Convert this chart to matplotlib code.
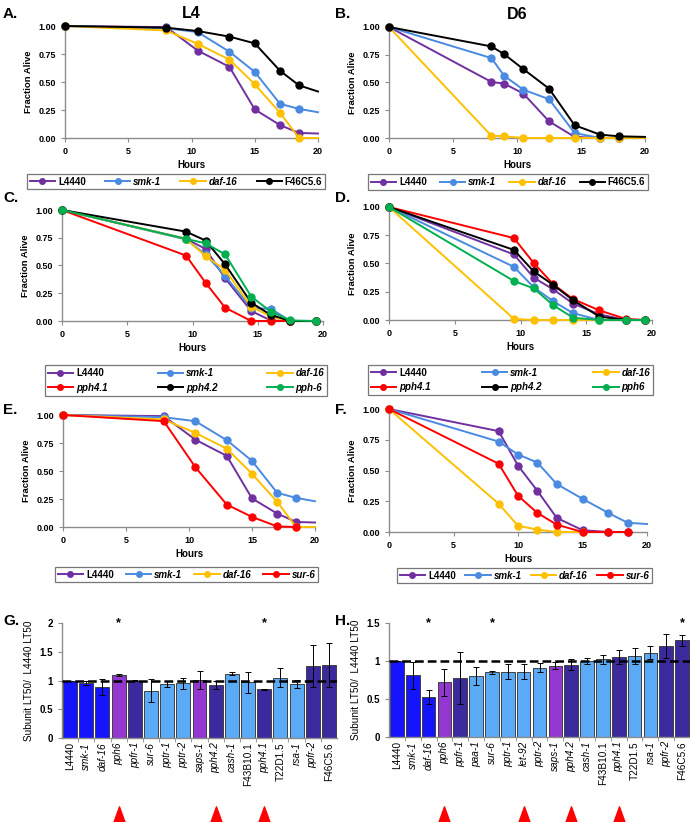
import matplotlib
matplotlib.use("Agg")
import matplotlib.pyplot as plt
import matplotlib.transforms as mtransforms
from matplotlib.lines import Line2D

plt.rcParams['font.family'] = ['Liberation Sans', 'DejaVu Sans']

# ---------------- data ----------------
# A: L4 RNAi, subset 1
a_hours = [0, 8, 10.5, 13, 15, 17, 18.5, 20]
a_l4440 = [1, 0.99, 0.78, 0.635, 0.255, 0.115, 0.045, 0.04]
a_smk1 = [1, 0.98, 0.945, 0.77, 0.59, 0.305, 0.26, 0.23]
a_daf16 = [1, 0.96, 0.84, 0.70, 0.48, 0.225, 0.0, 0.0]
a_f46 = [1, 0.985, 0.955, 0.905, 0.845, 0.60, 0.47, 0.415]

# B: D6 RNAi, subset 1
b_hours = [0, 8, 9, 10.5, 12.5, 14.5, 16.5, 18, 20]
b_l4440 = [1, 0.505, 0.49, 0.40, 0.15, 0.01, 0, 0, 0]
b_smk1 = [1, 0.72, 0.56, 0.435, 0.35, 0.045, 0, 0, 0]
b_daf16 = [1, 0.02, 0.015, 0, 0, 0, 0, 0, 0]
b_f46 = [1, 0.825, 0.755, 0.62, 0.445, 0.115, 0.03, 0.015, 0.01]

# C: L4 RNAi, subset 2
c_hours = [0, 9.5, 11, 12.5, 14.5, 16, 17.5, 19.5]
c_l4440 = [1, 0.74, 0.65, 0.385, 0.09, 0.005, 0, 0]
c_smk1 = [1, 0.735, 0.60, 0.405, 0.115, 0.11, 0, 0]
c_daf16 = [1, 0.74, 0.585, 0.46, 0.13, 0.04, 0, 0]
c_pph41 = [1, 0.59, 0.345, 0.12, 0, 0, 0, 0]
c_pph42 = [1, 0.805, 0.725, 0.51, 0.165, 0.055, 0, 0]
c_pph6 = [1, 0.74, 0.70, 0.60, 0.22, 0.085, 0.005, 0]

# D: D6 RNAi, subset 2
d_hours = [0, 9.5, 11, 12.5, 14, 16, 18, 19.5]
d_l4440 = [1, 0.58, 0.375, 0.27, 0.145, 0.05, 0, 0]
d_smk1 = [1, 0.47, 0.29, 0.165, 0.06, 0, 0, 0]
d_daf16 = [1, 0.01, 0, 0, 0, 0, 0, 0]
d_pph41 = [1, 0.725, 0.505, 0.315, 0.185, 0.085, 0.01, 0]
d_pph42 = [1, 0.62, 0.43, 0.31, 0.175, 0.03, 0, 0]
d_pph6 = [1, 0.345, 0.28, 0.13, 0.02, 0, 0, 0]

# E: L4 RNAi, sur-6
e_hours = [0, 8, 10.5, 13, 15, 17, 18.5, 20]
e_l4440 = [1, 0.99, 0.78, 0.635, 0.255, 0.12, 0.045, 0.04]
e_smk1 = [1, 0.98, 0.945, 0.775, 0.59, 0.305, 0.26, 0.23]
e_daf16 = [1, 0.96, 0.84, 0.70, 0.475, 0.225, 0.0, 0.0]
e_sur6_hours = [0, 8, 10.5, 13, 15, 17, 18.5]
e_sur6 = [1, 0.945, 0.535, 0.2, 0.09, 0.005, 0]

# F: D6 RNAi, sur-6
f_l4440_hours = [0, 8.5, 10, 11.5, 13, 15, 17, 18.5]
f_l4440 = [1, 0.82, 0.54, 0.335, 0.115, 0.015, 0, 0]
f_smk1_hours = [0, 8.5, 10, 11.5, 13, 15, 17, 18.5, 20]
f_smk1 = [1, 0.735, 0.63, 0.565, 0.39, 0.27, 0.155, 0.075, 0.065]
f_daf16_hours = [0, 8.5, 10, 11.5, 13, 15]
f_daf16 = [1, 0.23, 0.05, 0.02, 0, 0]
f_sur6_hours = [0, 8.5, 10, 11.5, 13, 15, 17, 18.5]
f_sur6 = [1, 0.555, 0.295, 0.155, 0.06, 0, 0, 0]

# G: L4 LT50 ratios
g_genes = ['L4440', 'smk-1', 'daf-16', 'pph6', 'ppfr-1', 'sur-6', 'pptr-1', 'pptr-2',
           'saps-1', 'pph4.2', 'cash-1', 'F43B10.1', 'pph4.1', 'T22D1.5', 'rsa-1',
           'ppfr-2', 'F46C5.6']
g_ratio = [1.0, 0.96, 0.885, 1.09, 1.0, 0.82, 0.94, 0.95, 1.01, 0.92, 1.12, 0.97, 0.85,
           1.05, 0.94, 1.25, 1.27]
g_err = [0.0, 0.04, 0.14, 0.02, 0.01, 0.2, 0.05, 0.1, 0.16, 0.07, 0.03, 0.18, 0.01,
         0.16, 0.07, 0.36, 0.38]
g_star = ['pph6', 'pph4.1']
g_arrow = ['pph6', 'pph4.2', 'pph4.1']

# H: D6 LT50 ratios
h_genes = ['L4440', 'smk-1', 'daf-16', 'pph6', 'ppfr-1', 'paa-1', 'sur-6', 'pptr-1',
           'let-92', 'pptr-2', 'saps-1', 'pph4.2', 'cash-1', 'F43B10.1', 'pph4.1',
           'T22D1.5', 'rsa-1', 'ppfr-2', 'F46C5.6']
h_ratio = [1.0, 0.81, 0.53, 0.72, 0.78, 0.80, 0.85, 0.86, 0.86, 0.91, 0.94, 0.95, 1.0,
           1.02, 1.05, 1.065, 1.11, 1.195, 1.27]
h_err = [0.0, 0.18, 0.09, 0.18, 0.34, 0.12, 0.02, 0.1, 0.1, 0.06, 0.05, 0.07, 0.04,
         0.06, 0.09, 0.11, 0.09, 0.16, 0.07]
h_star = ['daf-16', 'sur-6', 'F46C5.6']
h_arrow = ['pph6', 'let-92', 'pph4.2', 'pph4.1']

# ---------------- styles ----------------
PURPLE = '#7030A0'
BLUE = '#4A8AE0'
YELLOW = '#FFC000'
RED = '#FF0000'
BLACK = '#000000'
GREEN = '#00B050'
GRAY = '#8C8C8C'

bar_col = {}
for g in ['L4440', 'smk-1', 'daf-16']:
    bar_col[g] = '#1414FF'
for g in ['pph6', 'saps-1']:
    bar_col[g] = '#9436D0'
for g in ['ppfr-1', 'pph4.2', 'pph4.1', 'ppfr-2', 'F46C5.6']:
    bar_col[g] = '#3B2A9E'
for g in ['sur-6', 'pptr-1', 'pptr-2', 'cash-1', 'F43B10.1', 'T22D1.5', 'rsa-1',
          'paa-1', 'let-92']:
    bar_col[g] = '#5AAAF5'
plain = ['L4440', 'F46C5.6', 'F43B10.1', 'T22D1.5']

W, H = 690, 822
fig = plt.figure(figsize=(W / 100, H / 100), dpi=100)


def box(l, t, r, b):
    return fig.add_axes([l / W, 1 - b / H, (r - l) / W, (b - t) / H])


def style_axes(ax):
    for s in ['top', 'right']:
        ax.spines[s].set_visible(False)
    for s in ['left', 'bottom']:
        ax.spines[s].set_color(GRAY)
        ax.spines[s].set_linewidth(1.0)
    ax.tick_params(colors=GRAY, length=3, width=0.8, labelcolor='black')


def survival_axes(l, t, r, b):
    ax = box(l, t, r, b)
    style_axes(ax)
    ax.set_xlim(0, 20)
    ax.set_ylim(0, 1)
    ax.set_xticks([0, 5, 10, 15, 20])
    ax.set_yticks([0, 0.25, 0.5, 0.75, 1.0])
    ax.set_yticklabels(['0.00', '0.25', '0.50', '0.75', '1.00'])
    for lab in ax.get_xticklabels() + ax.get_yticklabels():
        lab.set_fontsize(6.5)
        lab.set_fontweight('bold')
    ax.set_ylabel('Fraction Alive', fontsize=6.8, fontweight='bold', labelpad=4)
    ax.set_xlabel('Hours', fontsize=7, fontweight='bold', labelpad=3)
    return ax


def curve(ax, x, y, color):
    marks = [i for i, v in enumerate(x) if v < 20]
    ax.plot(x, y, color=color, lw=1.4, marker='o', ms=5, markevery=marks,
            clip_on=False, zorder=3)


def legend(l, t, r, b, entries, ncol):
    # matplotlib fills columns first; reorder so entries read row by row
    nrow = -(-len(entries) // ncol)
    order = [r_ * ncol + c for c in range(ncol) for r_ in range(nrow)
             if r_ * ncol + c < len(entries)]
    entries = [entries[i] for i in order]
    handles = [Line2D([], [], color=c, lw=1.4, marker='o', ms=4) for _, c in entries]
    labels = [n for n, _ in entries]
    leg = fig.legend(handles, labels, ncol=ncol, mode='expand', loc='center',
                     bbox_to_anchor=(l / W, 1 - b / H, (r - l) / W, (b - t) / H),
                     frameon=True, fancybox=False, edgecolor='#555555',
                     handlelength=2.6, handletextpad=0.3, borderpad=0.3,
                     columnspacing=0.6, labelspacing=0.45, numpoints=1,
                     prop={'size': 7, 'weight': 'bold'})
    leg.get_frame().set_linewidth(0.9)
    for txt in leg.get_texts():
        if txt.get_text() not in plain:
            txt.set_style('italic')
    return leg


def bar_axes(l, t, r, b, genes, ratio, err, stars, arrows, ytop, yticks, ylabs):
    ax = box(l, t, r, b)
    style_axes(ax)
    x = list(range(len(genes)))
    ax.bar(x, ratio, width=0.86, color=[bar_col[g] for g in genes],
           edgecolor='#404040', linewidth=0.7, zorder=2)
    ax.errorbar(x, ratio, yerr=err, fmt='none', ecolor='black', elinewidth=0.7,
                capsize=2.5, capthick=0.7, zorder=3)
    ax.axhline(1.0, color='black', lw=1.8, dashes=(3.5, 1.6), zorder=4)
    ax.set_xlim(-0.5, len(genes) - 0.5)
    ax.set_ylim(0, ytop)
    ax.set_yticks(yticks)
    ax.set_yticklabels(ylabs, fontsize=7, fontweight='bold')
    ax.set_xticks(x)
    ax.set_xticklabels(genes, rotation=90, fontsize=7.2)
    for lab in ax.get_xticklabels():
        if lab.get_text() not in plain:
            lab.set_style('italic')
    ax.set_xticks([i + 0.5 for i in x[:-1]], minor=True)
    ax.tick_params(axis='x', which='major', length=0, pad=3)
    ax.tick_params(axis='x', which='minor', length=3, color=GRAY)
    ax.set_ylabel('Subunit LT50/  L4440 LT50', fontsize=7.2, labelpad=4)
    for g in stars:
        ax.text(genes.index(g), ytop, '*', ha='center', va='center', fontsize=9,
                fontweight='bold')
    tr = mtransforms.blended_transform_factory(ax.transData, fig.transFigure)
    tri = [(-0.36, -0.5), (0.36, -0.5), (0, 0.5), (-0.36, -0.5)]
    for g in arrows:
        ax.plot([genes.index(g)], [1 - 814 / H], transform=tr, marker=tri, ms=11,
                color='#FF0000', clip_on=False, ls='none')
    return ax


# ---------------- panel A ----------------
ax = survival_axes(65, 26, 318, 138)
curve(ax, a_hours, a_l4440, PURPLE)
curve(ax, a_hours, a_smk1, BLUE)
curve(ax, a_hours, a_daf16, YELLOW)
curve(ax, a_hours, a_f46, BLACK)
ax.set_title('L4', fontsize=11.5, fontweight='bold', pad=6)
legend(22, 173, 330, 190, [('L4440', PURPLE), ('smk-1', BLUE), ('daf-16', YELLOW),
                           ('F46C5.6', BLACK)], 4)

# ---------------- panel B ----------------
ax = survival_axes(389, 27, 645, 138)
curve(ax, b_hours, b_l4440, PURPLE)
curve(ax, b_hours, b_smk1, BLUE)
curve(ax, b_hours, b_daf16, YELLOW)
curve(ax, b_hours, b_f46, BLACK)
ax.set_title('D6', fontsize=11.5, fontweight='bold', pad=6)
legend(363, 173, 653, 191, [('L4440', PURPLE), ('smk-1', BLUE), ('daf-16', YELLOW),
                            ('F46C5.6', BLACK)], 4)

# ---------------- panel C ----------------
ax = survival_axes(62, 210, 323, 321)
curve(ax, c_hours, c_l4440, PURPLE)
curve(ax, c_hours, c_smk1, BLUE)
curve(ax, c_hours, c_daf16, YELLOW)
curve(ax, c_hours, c_pph41, RED)
curve(ax, c_hours, c_pph42, BLACK)
curve(ax, c_hours, c_pph6, GREEN)
legend(40, 363, 332, 398, [('L4440', PURPLE), ('smk-1', BLUE), ('daf-16', YELLOW),
                           ('pph4.1', RED), ('pph4.2', BLACK), ('pph-6', GREEN)], 3)

# ---------------- panel D ----------------
ax = survival_axes(389, 207, 652, 320)
curve(ax, d_hours, d_l4440, PURPLE)
curve(ax, d_hours, d_smk1, BLUE)
curve(ax, d_hours, d_daf16, YELLOW)
curve(ax, d_hours, d_pph41, RED)
curve(ax, d_hours, d_pph42, BLACK)
curve(ax, d_hours, d_pph6, GREEN)
legend(363, 363, 658, 397, [('L4440', PURPLE), ('smk-1', BLUE), ('daf-16', YELLOW),
                            ('pph4.1', RED), ('pph4.2', BLACK), ('pph6', GREEN)], 3)

# ---------------- panel E ----------------
ax = survival_axes(63, 415, 315, 527)
curve(ax, e_hours, e_l4440, PURPLE)
curve(ax, e_hours, e_smk1, BLUE)
curve(ax, e_hours, e_daf16, YELLOW)
curve(ax, e_sur6_hours, e_sur6, RED)
legend(50, 567, 323, 582, [('L4440', PURPLE), ('smk-1', BLUE), ('daf-16', YELLOW),
                           ('sur-6', RED)], 4)

# ---------------- panel F ----------------
ax = survival_axes(389, 409, 647, 532)
curve(ax, f_l4440_hours, f_l4440, PURPLE)
curve(ax, f_smk1_hours, f_smk1, BLUE)
curve(ax, f_daf16_hours, f_daf16, YELLOW)
curve(ax, f_sur6_hours, f_sur6, RED)
legend(392, 567, 657, 584, [('L4440', PURPLE), ('smk-1', BLUE), ('daf-16', YELLOW),
                            ('sur-6', RED)], 4)

# ---------------- panels G, H ----------------
bar_axes(62, 623, 337, 738, g_genes, g_ratio, g_err, g_star, g_arrow, 2.0,
         [0, 0.5, 1, 1.5, 2], ['0', '0.5', '1', '1.5', '2'])
bar_axes(389, 623, 690, 737, h_genes, h_ratio, h_err, h_star, h_arrow, 1.5,
         [0, 0.5, 1, 1.5], ['0', '0.5', '1', '1.5'])

# panel letters
for lab, x, y in [('A.', 3, 14), ('B.', 335, 14), ('C.', 3, 198), ('D.', 335, 198),
                  ('E.', 3, 410), ('F.', 335, 410), ('G.', 3, 621), ('H.', 335, 621)]:
    fig.text(x / W, 1 - y / H, lab, fontsize=11, fontweight='bold', va='center',
             ha='left')

fig.savefig('out.png', dpi=100)
